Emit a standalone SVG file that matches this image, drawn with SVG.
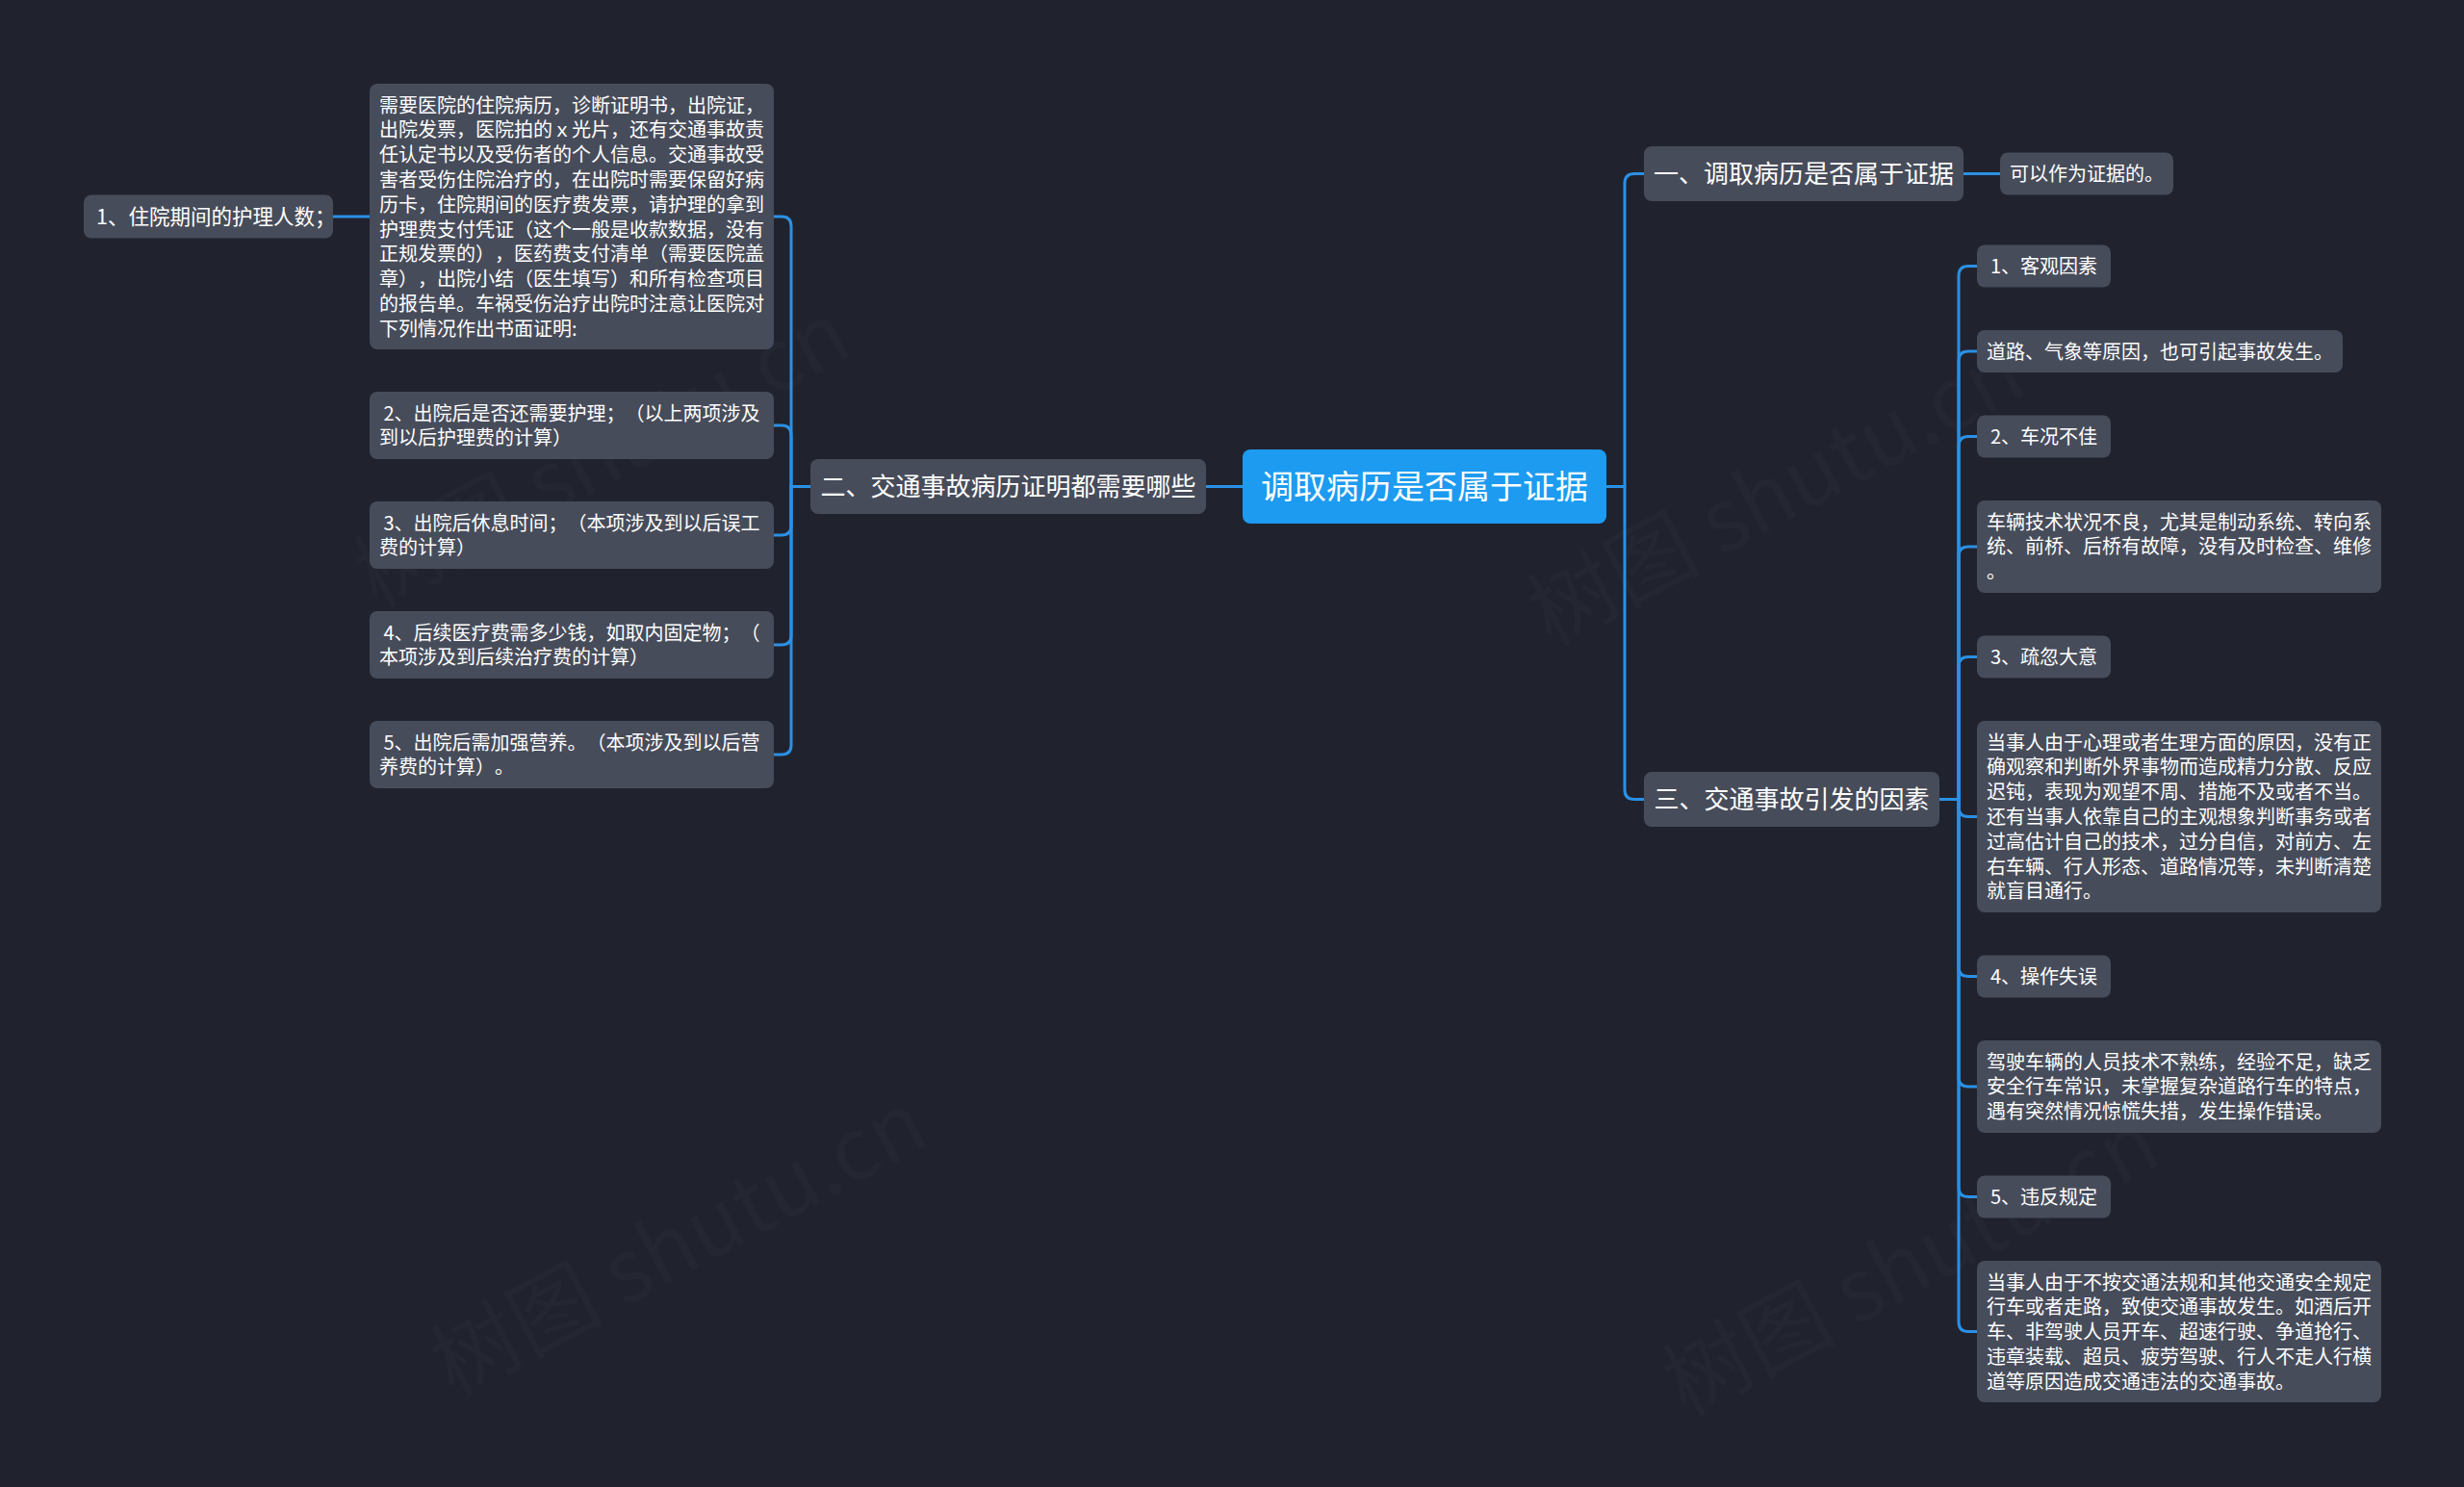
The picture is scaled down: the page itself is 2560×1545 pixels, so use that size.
<svg xmlns="http://www.w3.org/2000/svg" width="2560" height="1545" viewBox="0 0 2560 1545">
<defs>
<style>
.bg{fill:#20232e}
.n{fill:#474c5a}
.root{fill:#1c9bf0}
.t{font-family:"Noto Sans CJK SC","Noto Sans",sans-serif;fill:#ffffff;text-spacing-trim:space-all}
.s20{font-size:20px}
.s26{font-size:26px}
.c{text-anchor:middle}
.ln{fill:none;stroke:#2b90e4;stroke-width:3;stroke-linecap:round;stroke-linejoin:round}
.wm{font-family:"Noto Sans CJK SC","Liberation Serif",serif;font-size:90px;fill:#ffffff;fill-opacity:0.018}
</style>
</defs>
<rect class="bg" x="0" y="0" width="2560" height="1545"/>

<g id="watermarks">
<text class="wm" transform="translate(640,500) rotate(-28)" text-anchor="middle">树图 shutu.cn</text>
<text class="wm" transform="translate(1860,540) rotate(-28)" text-anchor="middle">树图 shutu.cn</text>
<text class="wm" transform="translate(720,1320) rotate(-28)" text-anchor="middle">树图 shutu.cn</text>
<text class="wm" transform="translate(2000,1340) rotate(-28)" text-anchor="middle">树图 shutu.cn</text>
</g>

<g id="connectors">
<path class="ln" d="M1669 505.5 H1688 V190.5 Q1688 180.5 1698 180.5 H1708"/>
<path class="ln" d="M1669 505.5 H1688 V820.5 Q1688 830.5 1698 830.5 H1708"/>
<path class="ln" d="M1291 505.5 H1253"/>
<path class="ln" d="M2040 180.5 H2078"/>
<path class="ln" d="M2015 830.5 H2035 V286.5 Q2035 276.5 2045 276.5 H2054"/>
<path class="ln" d="M2015 830.5 H2035 V375 Q2035 365 2045 365 H2054"/>
<path class="ln" d="M2015 830.5 H2035 V463.5 Q2035 453.5 2045 453.5 H2054"/>
<path class="ln" d="M2015 830.5 H2035 V578 Q2035 568 2045 568 H2054"/>
<path class="ln" d="M2015 830.5 H2035 V692.5 Q2035 682.5 2045 682.5 H2054"/>
<path class="ln" d="M2015 830.5 H2035 V838.5 Q2035 848.5 2045 848.5 H2054"/>
<path class="ln" d="M2015 830.5 H2035 V1004.5 Q2035 1014.5 2045 1014.5 H2054"/>
<path class="ln" d="M2015 830.5 H2035 V1119 Q2035 1129 2045 1129 H2054"/>
<path class="ln" d="M2015 830.5 H2035 V1233.5 Q2035 1243.5 2045 1243.5 H2054"/>
<path class="ln" d="M2015 830.5 H2035 V1373.5 Q2035 1383.5 2045 1383.5 H2054"/>
<path class="ln" d="M842 505.5 H822 V235 Q822 225 812 225 H804"/>
<path class="ln" d="M842 505.5 H822 V452 Q822 442 812 442 H804"/>
<path class="ln" d="M842 505.5 H822 V546 Q822 556 812 556 H804"/>
<path class="ln" d="M842 505.5 H822 V660 Q822 670 812 670 H804"/>
<path class="ln" d="M842 505.5 H822 V774 Q822 784 812 784 H804"/>
<path class="ln" d="M384 225 H346"/>
</g>

<g id="root">
<rect class="root" x="1291" y="467" width="378" height="77" rx="8"/>
<text class="t c" x="1480" y="518" font-size="34">调取病历是否属于证据</text>
</g>

<g id="n1">
<rect class="n" x="1708" y="152" width="332" height="57" rx="8"/>
<text class="t s26 c" x="1874" y="190">一、调取病历是否属于证据</text>
</g>
<g id="n1-1">
<rect class="n" x="2078" y="158.5" width="180" height="44" rx="8"/>
<text class="t s20 c" x="2168" y="188">可以作为证据的。</text>
</g>

<g id="n3">
<rect class="n" x="1708" y="802" width="307" height="57" rx="8"/>
<text class="t s26 c" x="1861.5" y="840">三、交通事故引发的因素</text>
</g>
<g id="n3-1">
<rect class="n" x="2054" y="254.5" width="139" height="44" rx="8"/>
<text class="t s20 c" x="2123.5" y="284">1、客观因素</text>
</g>
<g id="n3-2">
<rect class="n" x="2054" y="343" width="380" height="44" rx="8"/>
<text class="t s20" x="2064" y="372.5">道路、气象等原因，也可引起事故发生。</text>
</g>
<g id="n3-3">
<rect class="n" x="2054" y="431.5" width="139" height="44" rx="8"/>
<text class="t s20 c" x="2123.5" y="461">2、车况不佳</text>
</g>
<g id="n3-4">
<rect class="n" x="2054" y="520" width="420" height="96" rx="8"/>
<text class="t s20" x="2064" y="549.5">车辆技术状况不良，尤其是制动系统、转向系<tspan x="2064" dy="25.8">统、前桥、后桥有故障，没有及时检查、维修</tspan><tspan x="2064" dy="25.8">。</tspan></text>
</g>
<g id="n3-5">
<rect class="n" x="2054" y="660.5" width="139" height="44" rx="8"/>
<text class="t s20 c" x="2123.5" y="690">3、疏忽大意</text>
</g>
<g id="n3-6">
<rect class="n" x="2054" y="749" width="420" height="199" rx="8"/>
<text class="t s20" x="2064" y="778.5">当事人由于心理或者生理方面的原因，没有正<tspan x="2064" dy="25.8">确观察和判断外界事物而造成精力分散、反应</tspan><tspan x="2064" dy="25.8">迟钝，表现为观望不周、措施不及或者不当。</tspan><tspan x="2064" dy="25.8">还有当事人依靠自己的主观想象判断事务或者</tspan><tspan x="2064" dy="25.8">过高估计自己的技术，过分自信，对前方、左</tspan><tspan x="2064" dy="25.8">右车辆、行人形态、道路情况等，未判断清楚</tspan><tspan x="2064" dy="25.8">就盲目通行。</tspan></text>
</g>
<g id="n3-7">
<rect class="n" x="2054" y="992.5" width="139" height="44" rx="8"/>
<text class="t s20 c" x="2123.5" y="1022">4、操作失误</text>
</g>
<g id="n3-8">
<rect class="n" x="2054" y="1081" width="420" height="96" rx="8"/>
<text class="t s20" x="2064" y="1110.5">驾驶车辆的人员技术不熟练，经验不足，缺乏<tspan x="2064" dy="25.8">安全行车常识，未掌握复杂道路行车的特点，</tspan><tspan x="2064" dy="25.8">遇有突然情况惊慌失措，发生操作错误。</tspan></text>
</g>
<g id="n3-9">
<rect class="n" x="2054" y="1221.5" width="139" height="44" rx="8"/>
<text class="t s20 c" x="2123.5" y="1251">5、违反规定</text>
</g>
<g id="n3-10">
<rect class="n" x="2054" y="1310" width="420" height="147" rx="8"/>
<text class="t s20" x="2064" y="1339.5">当事人由于不按交通法规和其他交通安全规定<tspan x="2064" dy="25.8">行车或者走路，致使交通事故发生。如酒后开</tspan><tspan x="2064" dy="25.8">车、非驾驶人员开车、超速行驶、争道抢行、</tspan><tspan x="2064" dy="25.8">违章装载、超员、疲劳驾驶、行人不走人行横</tspan><tspan x="2064" dy="25.8">道等原因造成交通违法的交通事故。</tspan></text>
</g>

<g id="n2">
<rect class="n" x="842" y="477" width="411" height="57" rx="8"/>
<text class="t s26 c" x="1047.5" y="515">二、交通事故病历证明都需要哪些</text>
</g>
<g id="n2-1">
<rect class="n" x="384" y="87" width="420" height="276" rx="8"/>
<text class="t s20" x="394" y="116.5">需要医院的住院病历，诊断证明书，出院证，<tspan x="394" dy="25.8">出院发票，医院拍的ｘ光片，还有交通事故责</tspan><tspan x="394" dy="25.8">任认定书以及受伤者的个人信息。交通事故受</tspan><tspan x="394" dy="25.8">害者受伤住院治疗的，在出院时需要保留好病</tspan><tspan x="394" dy="25.8">历卡，住院期间的医疗费发票，请护理的拿到</tspan><tspan x="394" dy="25.8">护理费支付凭证（这个一般是收款数据，没有</tspan><tspan x="394" dy="25.8">正规发票的），医药费支付清单（需要医院盖</tspan><tspan x="394" dy="25.8">章），出院小结（医生填写）和所有检查项目</tspan><tspan x="394" dy="25.8">的报告单。车祸受伤治疗出院时注意让医院对</tspan><tspan x="394" dy="25.8">下列情况作出书面证明:</tspan></text>
</g>
<g id="n2-1-1">
<rect class="n" x="87" y="202.5" width="259" height="45" rx="8"/>
<text class="t" x="100" y="233" font-size="21.5">1、住院期间的护理人数；</text>
</g>
<g id="n2-2">
<rect class="n" x="384" y="407" width="420" height="70" rx="8"/>
<text class="t s20" x="394" y="436.5">&#160;2、出院后是否还需要护理；（以上两项涉及<tspan x="394" dy="25.8">到以后护理费的计算）</tspan></text>
</g>
<g id="n2-3">
<rect class="n" x="384" y="521" width="420" height="70" rx="8"/>
<text class="t s20" x="394" y="550.5">&#160;3、出院后休息时间；（本项涉及到以后误工<tspan x="394" dy="25.8">费的计算）</tspan></text>
</g>
<g id="n2-4">
<rect class="n" x="384" y="635" width="420" height="70" rx="8"/>
<text class="t s20" x="394" y="664.5">&#160;4、后续医疗费需多少钱，如取内固定物；（<tspan x="394" dy="25.8">本项涉及到后续治疗费的计算）</tspan></text>
</g>
<g id="n2-5">
<rect class="n" x="384" y="749" width="420" height="70" rx="8"/>
<text class="t s20" x="394" y="778.5">&#160;5、出院后需加强营养。（本项涉及到以后营<tspan x="394" dy="25.8">养费的计算）。</tspan></text>
</g>
</svg>
